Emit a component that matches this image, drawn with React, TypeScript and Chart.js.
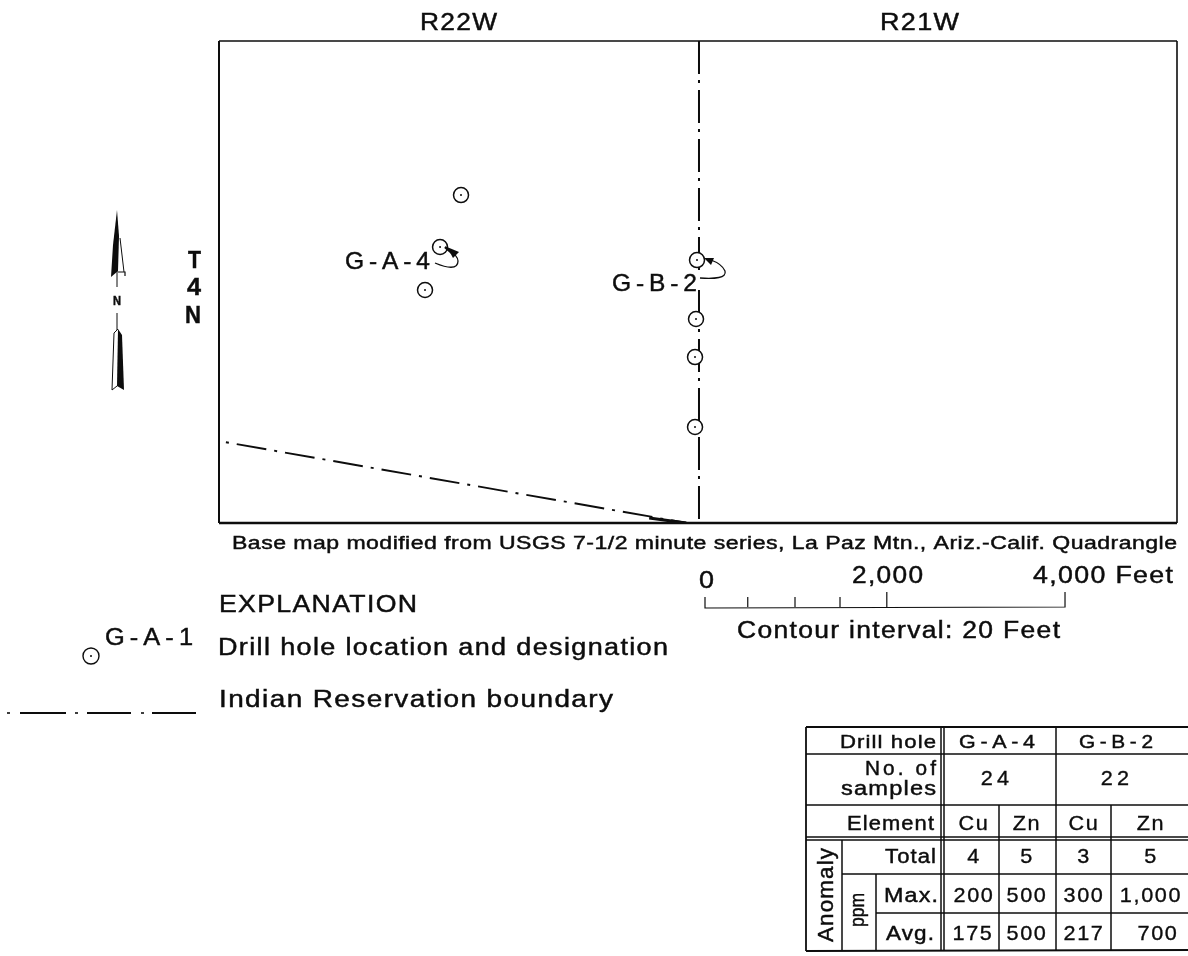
import React, { useEffect, useRef } from "react";
import { Chart, registerables } from "chart.js";

Chart.register(...registerables);

// Map values, in feet from the south-west corner of the map frame
const holeEast = [2689, 2456, 2289, 5311, 5300, 5289, 5289];
const holeNorth = [3644, 3067, 2589, 2922, 2267, 1844, 1067];
const rangeLineEast = [5333, 5333, 5333, 5333];
const rangeLineNorth = [5356, 2750, 2590, 0];
const boundaryEast = [0, 5200];
const boundaryNorth = [911, 0];
const boundaryEndEast = [4780, 5190];
const boundaryEndNorth = [55, 0];
const mapWidthFeet = 10644;
const mapHeightFeet = 5356;

// Table contents
const elementRow = ["Cu", "Zn", "Cu", "Zn"];
const totalRow = ["4", "5", "3", "5"];
const maxRow = ["200", "500", "300", "1,000"];
const avgRow = ["175", "500", "217", "700"];
const holeNames = ["G-A-4", "G-B-2"];
const sampleCounts = ["24", "22"];
const scaleTickFeet = [0, 475, 1000, 1500, 2020, 4000];

const FONT = '"Liberation Sans", Arial, sans-serif';
const INK = "#0d0d0d";

const toXY = (xs: (number | null)[], ys: (number | null)[]) => xs.map((x, i) => ({ x, y: ys[i] }));

function fit(ctx: any, s: string, x0: number, x1: number, base: number, size: number, weight = "normal", track = 0.05) {
  ctx.save();
  ctx.font = `${weight} ${size}px ${FONT}`;
  ctx.letterSpacing = `${size * track}px`;
  ctx.textAlign = "left";
  ctx.textBaseline = "alphabetic";
  const w = ctx.measureText(s).width - size * track;
  ctx.translate(x0, base);
  ctx.scale((x1 - x0) / w, 1);
  ctx.fillStyle = INK;
  ctx.strokeStyle = INK;
  ctx.lineWidth = 0.45;
  ctx.fillText(s, 0, 0);
  ctx.strokeText(s, 0, 0);
  ctx.restore();
}

function cell(ctx: any, s: string, x: number, base: number, align: "center" | "right" = "center", size = 21, spacing = 1.6) {
  ctx.save();
  ctx.font = `${size}px ${FONT}`;
  ctx.letterSpacing = `${spacing}px`;
  ctx.textAlign = align;
  ctx.textBaseline = "alphabetic";
  ctx.translate(x, base);
  ctx.scale(1.03, 1);
  ctx.fillStyle = INK;
  ctx.strokeStyle = INK;
  ctx.lineWidth = 0.35;
  ctx.fillText(s, 0, 0);
  ctx.strokeText(s, 0, 0);
  ctx.restore();
}

function seg(ctx: any, pts: number[], width = 1.5) {
  ctx.beginPath();
  ctx.lineWidth = width;
  ctx.moveTo(pts[0], pts[1]);
  for (let i = 2; i < pts.length; i += 2) ctx.lineTo(pts[i], pts[i + 1]);
  ctx.stroke();
}

function poly(ctx: any, pts: number[]) {
  ctx.beginPath();
  ctx.moveTo(pts[0], pts[1]);
  for (let i = 2; i < pts.length; i += 2) ctx.lineTo(pts[i], pts[i + 1]);
  ctx.closePath();
  ctx.fill();
}

function drawNorthArrow(ctx: any) {
  ctx.fillStyle = INK;
  ctx.strokeStyle = INK;
  poly(ctx, [117, 210, 119, 236, 118, 271, 111, 277, 113, 245]);
  seg(ctx, [120, 238, 124, 272], 1);
  seg(ctx, [118, 272, 125, 272, 125, 276], 1.2);
  seg(ctx, [117, 270, 117, 287], 1);
  fit(ctx, "N", 113, 121, 305, 13, "bold");
  seg(ctx, [117, 313, 117, 330], 1);
  poly(ctx, [118, 329, 122, 335, 124, 390, 117, 386]);
  seg(ctx, [114, 333, 112, 390], 1);
  seg(ctx, [114, 333, 118, 329], 1);
  seg(ctx, [112, 390, 117, 386], 1);
}

function drawLeaders(ctx: any) {
  ctx.strokeStyle = INK;
  ctx.fillStyle = INK;
  ctx.lineWidth = 1.3;
  ctx.beginPath();
  ctx.moveTo(435, 263);
  ctx.bezierCurveTo(447, 268, 458, 270, 458, 261);
  ctx.quadraticCurveTo(458, 256, 449, 250);
  ctx.stroke();
  ctx.lineWidth = 2.4;
  ctx.beginPath();
  ctx.moveTo(445, 247);
  ctx.lineTo(452, 253);
  ctx.stroke();
  poly(ctx, [447, 247, 459, 252, 453, 258]);
  ctx.lineWidth = 1.3;
  ctx.beginPath();
  ctx.moveTo(700, 278);
  ctx.bezierCurveTo(715, 279, 727, 278, 725, 271);
  ctx.quadraticCurveTo(722, 264, 711, 260);
  ctx.stroke();
  poly(ctx, [704, 258, 714, 258, 711, 265]);
}

function drawTable(ctx: any) {
  ctx.strokeStyle = INK;
  const R = 1188;
  const H = 1.5;
  seg(ctx, [806, 727, R, 727], 1.8);
  seg(ctx, [806, 727, 806, 951], 1.8);
  seg(ctx, [806, 951, R, 950], 1.8);
  seg(ctx, [806, 754, R, 754], H);
  seg(ctx, [806, 805, R, 805], H);
  seg(ctx, [806, 837, R, 837], H);
  seg(ctx, [806, 840, R, 840], H);
  seg(ctx, [842, 874, R, 874], H);
  seg(ctx, [876, 913, R, 913], H);
  seg(ctx, [941, 727, 941, 951], H);
  seg(ctx, [944, 727, 944, 951], H);
  seg(ctx, [1056, 727, 1056, 951], H);
  seg(ctx, [999, 805, 999, 951], H);
  seg(ctx, [1111, 805, 1111, 951], H);
  seg(ctx, [842, 840, 842, 951], H);
  seg(ctx, [876, 874, 876, 951], H);

  const cols = [974, 1027, 1084, 1151];
  fit(ctx, "Drill hole", 840, 936, 748, 19);
  fit(ctx, holeNames[0], 959, 1035, 748, 19, "normal", 0.22);
  fit(ctx, holeNames[1], 1079, 1153, 748, 19, "normal", 0.22);
  fit(ctx, "No. of", 865, 936, 775, 20, "normal", 0.15);
  fit(ctx, "samples", 841, 936, 795, 20);
  cell(ctx, sampleCounts[0], 997, 785, "center", 21, 4);
  cell(ctx, sampleCounts[1], 1117, 785, "center", 21, 4);
  fit(ctx, "Element", 847, 934, 830, 20);
  elementRow.forEach((s, i) => cell(ctx, s, cols[i], 830));
  fit(ctx, "Total", 885, 936, 863, 20);
  totalRow.forEach((s, i) => cell(ctx, s, cols[i], 863));
  fit(ctx, "Max.", 884, 938, 902, 20);
  maxRow.forEach((s, i) => cell(ctx, s, cols[i], 902));
  fit(ctx, "Avg.", 886, 934, 940, 20);
  avgRow.forEach((s, i) => cell(ctx, s, i === 3 ? 1158 : cols[i] - (i === 0 ? 1 : 0), 940));

  ctx.save();
  ctx.translate(833, 895);
  ctx.rotate(-Math.PI / 2);
  fit(ctx, "Anomaly", -47, 47, 0, 22);
  ctx.restore();
  ctx.save();
  ctx.translate(864, 910);
  ctx.rotate(-Math.PI / 2);
  fit(ctx, "ppm", -17, 17, 0, 21, "normal", 0);
  ctx.restore();
}

const mapFurniture = {
  id: "mapFurniture",
  afterDraw(chart: any) {
    const { ctx, chartArea: a, scales } = chart;
    ctx.save();
    ctx.strokeStyle = INK;
    // frame
    seg(ctx, [a.left, a.top, a.right, a.top], 1.6);
    seg(ctx, [a.left, a.top, a.left, a.bottom], 2);
    seg(ctx, [a.right, a.top, a.right, a.bottom], 1.6);
    seg(ctx, [a.left, a.bottom, a.right, a.bottom], 2.6);

    fit(ctx, "R22W", 420, 497, 30, 23);
    fit(ctx, "R21W", 880, 959, 30, 23);
    fit(ctx, "T", 188, 201, 268, 24, "bold");
    fit(ctx, "4", 187, 201, 295, 24, "bold");
    fit(ctx, "N", 185, 201, 323, 24, "bold");
    fit(ctx, "G-A-4", 345, 430, 269, 24, "normal", 0.2);
    fit(ctx, "G-B-2", 612, 697, 291, 24, "normal", 0.2);
    drawLeaders(ctx);
    drawNorthArrow(ctx);

    fit(ctx, "Base map modified from USGS 7-1/2 minute series, La Paz Mtn., Ariz.-Calif. Quadrangle", 232, 1177, 549, 18, "normal", 0.02);

    // scale bar, spaced with the map's own feet
    const x0 = 705;
    const px = (ft: number) => x0 + scales.x.getPixelForValue(ft) - scales.x.getPixelForValue(0);
    seg(ctx, [px(0), 597, px(0), 608, px(4000), 607, px(4000), 592], 1.2);
    scaleTickFeet.slice(1, 5).forEach((ft, i) => seg(ctx, [px(ft), i === 3 ? 592 : 597, px(ft), 607], 1.2));
    fit(ctx, "0", 699, 714, 588, 24);
    fit(ctx, "2,000", 852, 923, 583, 24);
    fit(ctx, "4,000 Feet", 1033, 1173, 583, 24);
    fit(ctx, "Contour interval: 20 Feet", 737, 1060, 638, 23);

    // explanation
    fit(ctx, "EXPLANATION", 219, 417, 612, 23);
    fit(ctx, "G-A-1", 105, 193, 645, 23, "normal", 0.2);
    fit(ctx, "Drill hole location and designation", 218, 668, 655, 23);
    fit(ctx, "Indian Reservation boundary", 219, 613, 707, 23);
    ctx.beginPath();
    ctx.lineWidth = 1.4;
    ctx.arc(91, 656, 8, 0, Math.PI * 2);
    ctx.stroke();
    ctx.beginPath();
    ctx.fillStyle = INK;
    ctx.arc(91, 656, 1, 0, Math.PI * 2);
    ctx.fill();
    seg(ctx, [7, 713, 10, 713], 1.6);
    seg(ctx, [20, 713, 66, 713], 2);
    seg(ctx, [75, 713, 78, 713], 1.6);
    seg(ctx, [87, 713, 131, 713], 2);
    seg(ctx, [141, 713, 144, 713], 1.6);
    seg(ctx, [152, 713, 196, 713], 2);

    drawTable(ctx);
    ctx.restore();
  },
};

export default function App() {
  const ref = useRef<HTMLCanvasElement>(null);
  useEffect(() => {
    const chart = new Chart(ref.current as HTMLCanvasElement, {
      type: "scatter",
      data: {
        datasets: [
          {
            label: "Drill hole centres",
            data: toXY(holeEast, holeNorth),
            pointRadius: 1,
            pointBackgroundColor: INK,
            pointBorderWidth: 0,
          },
          {
            label: "Drill holes",
            data: toXY(holeEast, holeNorth),
            pointRadius: 7.5,
            pointBackgroundColor: "#ffffff",
            pointBorderColor: INK,
            pointBorderWidth: 1.5,
          },
          {
            label: "Boundary end",
            data: toXY(boundaryEndEast, boundaryEndNorth),
            showLine: true,
            borderColor: INK,
            borderWidth: 3,
            pointRadius: 0,
          },
          {
            label: "Indian Reservation boundary",
            data: toXY(boundaryEast, boundaryNorth),
            showLine: true,
            borderColor: INK,
            borderWidth: 1.9,
            borderDash: [30, 8, 3, 8],
            borderDashOffset: 31,
            pointRadius: 0,
          },
          {
            label: "Range line",
            data: [
              ...toXY(rangeLineEast.slice(0, 2), rangeLineNorth.slice(0, 2)),
              { x: null, y: null },
              ...toXY(rangeLineEast.slice(2), rangeLineNorth.slice(2)),
            ],
            showLine: true,
            spanGaps: false,
            borderColor: INK,
            borderWidth: 2,
            borderDash: [33, 6, 3, 7],
            pointRadius: 0,
          },
        ],
      } as any,
      options: {
        animation: false,
        responsive: false,
        layout: { padding: { left: 219, right: 11, top: 41, bottom: 433 } },
        plugins: { legend: { display: false }, tooltip: { enabled: false } },
        scales: {
          x: { type: "linear", display: false, min: 0, max: mapWidthFeet },
          y: { type: "linear", display: false, min: 0, max: mapHeightFeet },
        },
      },
      plugins: [mapFurniture],
    });
    return () => chart.destroy();
  }, []);
  return (
    <div style={{ position: "absolute", left: 0, top: 0, width: 1188, height: 956, background: "#fff" }}>
      <canvas ref={ref} width={1188} height={956} style={{ display: "block" }} />
    </div>
  );
}
